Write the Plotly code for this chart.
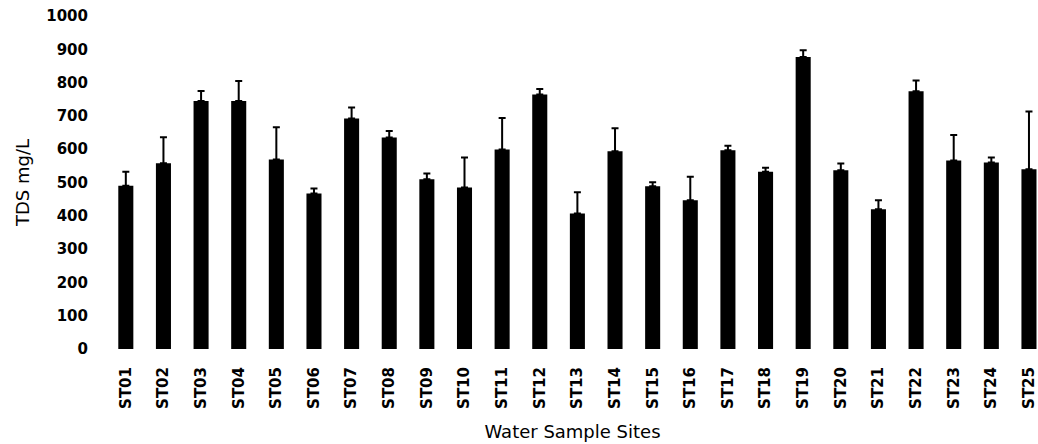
import plotly.graph_objects as go

sites = ["ST01","ST02","ST03","ST04","ST05","ST06","ST07","ST08","ST09","ST10",
         "ST11","ST12","ST13","ST14","ST15","ST16","ST17","ST18","ST19","ST20",
         "ST21","ST22","ST23","ST24","ST25"]
tds = [490, 558, 745, 745, 569, 467, 692, 635, 510, 485,
       599, 764, 407, 594, 489, 447, 597, 532, 877, 537,
       420, 774, 566, 560, 540]
err = [42, 78, 30, 60, 97, 15, 33, 20, 17, 90,
       95, 17, 64, 69, 12, 70, 13, 12, 20, 20,
       27, 32, 77, 15, 173]
y_ticks = [0, 100, 200, 300, 400, 500, 600, 700, 800, 900, 1000]

font = "DejaVu Sans, sans-serif"

fig = go.Figure(go.Bar(
    x=sites, y=tds,
    marker=dict(color="black", line=dict(width=0)),
    error_y=dict(type="data", array=err, arrayminus=[0]*len(err), symmetric=False,
                 color="black", thickness=2, width=3.5),
    width=0.4,
))

fig.update_layout(
    width=1038, height=444,
    margin=dict(l=107, r=0, t=16, b=95),
    paper_bgcolor="white", plot_bgcolor="white",
    showlegend=False,
    font=dict(family=font, color="black", size=15),
    xaxis=dict(
        range=[-0.5, 24.24], tickangle=-90, showgrid=False, showline=False,
        ticks="", ticklabelstandoff=14,
        tickfont=dict(size=15, family=font, weight="bold", color="black"),
        title=dict(text="Water Sample Sites", font=dict(size=18, family=font, color="black"), standoff=17),
    ),
    yaxis=dict(
        range=[0, 1000], tickvals=y_ticks, showgrid=False, showline=False, zeroline=False,
        ticks="", ticklabelstandoff=18,
        tickfont=dict(size=15, family=font, weight="bold", color="black"),
        title=dict(text="TDS mg/L", font=dict(size=18, family=font, color="black"), standoff=11),
    ),
)

fig.write_html("out.html")
